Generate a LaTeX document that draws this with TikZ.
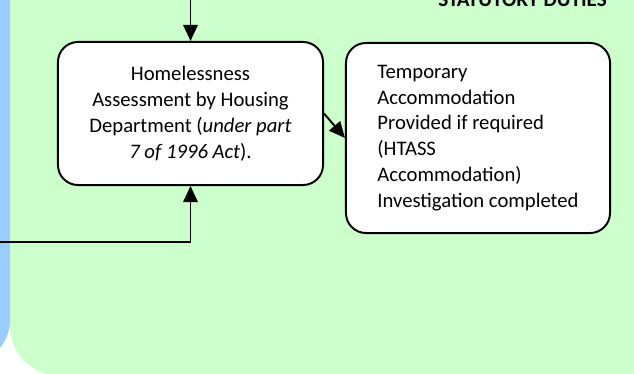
\documentclass[tikz,border=0pt]{standalone}
\usepackage{fontspec}
\setmainfont{Carlito}
\usetikzlibrary{arrows.meta}

\definecolor{panelgreen}{HTML}{CCFFCC}
\definecolor{panelblue}{HTML}{99CCFF}

\begin{document}
\begin{tikzpicture}[
    x=0.025cm, y=-0.025cm,
    stage/.style={draw, line width=1.4pt, fill=white, rounded corners=0.5cm,
        font=\fontsize{14.7}{18.4}\selectfont},
    flow/.style={-{Triangle[length=0.4cm, width=0.36cm]}, line width=1.4pt}
]

% Frame
\useasboundingbox (0,0) rectangle (634,374);
\clip (0,0) rectangle (634,374);

% Panels
\fill[panelblue, rounded corners=1.1cm] (-80,-40) rectangle (10,364);
\fill[panelgreen, rounded corners=1.25cm] (10,-80) rectangle (700,376);

% Heading (cut by the frame)
\node[anchor=base east, inner sep=0pt, font=\fontsize{15}{18}\selectfont\bfseries]
    (duties) at (607,7) {STATUTORY DUTIES};

% Stages
\node[stage, minimum width=6.625cm, minimum height=3.575cm, align=center]
    (assess) at (190.5,113.5)
    {Homelessness\\Assessment by Housing\\Department (\textit{under part}\\\textit{7 of 1996 Act}).};
\node[stage, minimum width=6.6cm, minimum height=4.75cm, align=left]
    (temp) at (478,138)
    {Temporary\\Accommodation\\Provided if required\\(HTASS\\Accommodation)\\Investigation completed};

% Flows
\coordinate (fromabove) at (190.5,-10);
\coordinate (fromleft) at (-10,242);
\draw[flow] (fromabove) -- (assess.north);
\draw[flow] (fromleft) -| (assess.south);
\draw[flow] (assess.east) -- (temp.west);

\end{tikzpicture}
\end{document}
